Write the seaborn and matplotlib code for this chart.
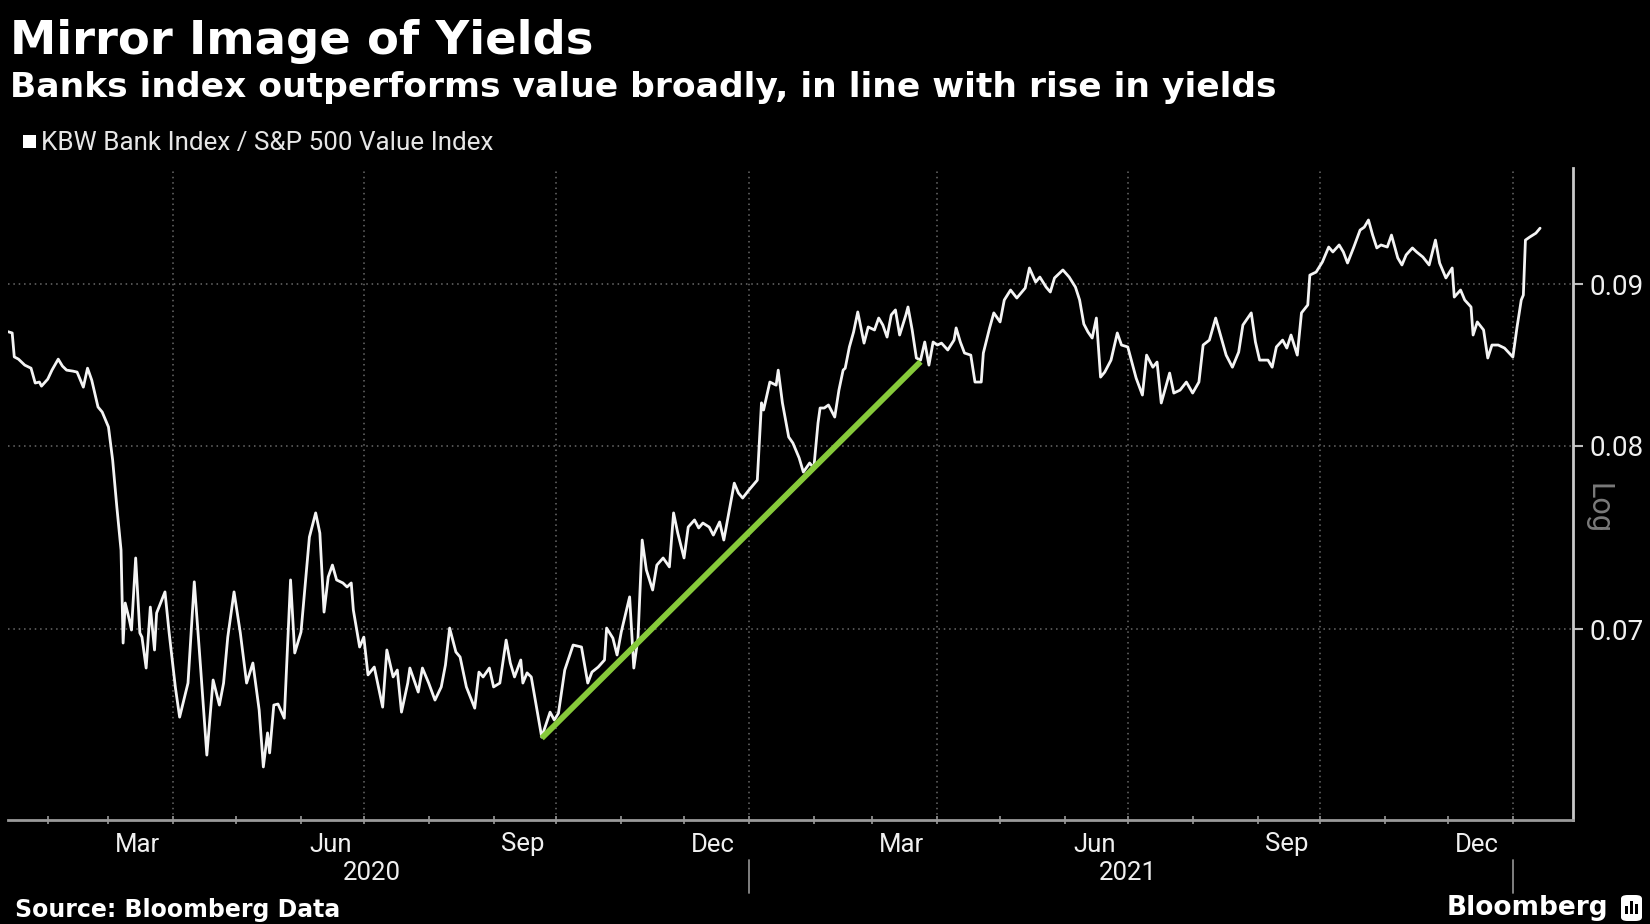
import matplotlib
matplotlib.use("Agg")
import numpy as np
import pandas as pd
import matplotlib.pyplot as plt
import matplotlib.dates as mdates
import matplotlib.ticker as mticker
from matplotlib import font_manager
from matplotlib.patches import FancyBboxPatch, Rectangle
import seaborn as sns

# ---------------- data ----------------
dates_2020 = [
    "2020-01-13", "2020-01-15", "2020-01-16", "2020-01-18", "2020-01-21", "2020-01-24", "2020-01-26",
    "2020-01-28", "2020-01-29", "2020-02-01", "2020-02-03", "2020-02-06", "2020-02-08", "2020-02-10",
    "2020-02-13", "2020-02-15", "2020-02-18", "2020-02-20", "2020-02-22", "2020-02-25", "2020-02-27",
    "2020-03-01", "2020-03-03", "2020-03-05", "2020-03-07", "2020-03-08", "2020-03-09", "2020-03-11",
    "2020-03-12", "2020-03-14", "2020-03-16", "2020-03-17", "2020-03-19", "2020-03-21", "2020-03-23",
    "2020-03-24", "2020-03-28", "2020-03-30", "2020-04-02", "2020-04-04", "2020-04-08", "2020-04-11",
    "2020-04-14", "2020-04-17", "2020-04-20", "2020-04-23", "2020-04-25", "2020-04-27", "2020-04-30",
    "2020-05-03", "2020-05-06", "2020-05-09", "2020-05-12", "2020-05-14", "2020-05-16", "2020-05-17",
    "2020-05-19", "2020-05-21", "2020-05-24", "2020-05-27", "2020-05-29", "2020-06-01", "2020-06-05",
    "2020-06-08", "2020-06-10", "2020-06-12", "2020-06-14", "2020-06-16", "2020-06-18", "2020-06-21",
    "2020-06-23", "2020-06-25", "2020-06-26", "2020-06-29", "2020-07-01", "2020-07-03", "2020-07-06",
    "2020-07-08", "2020-07-10", "2020-07-12", "2020-07-15", "2020-07-17", "2020-07-19", "2020-07-22",
    "2020-07-23", "2020-07-27", "2020-07-29", "2020-08-01", "2020-08-04", "2020-08-07", "2020-08-09",
    "2020-08-11", "2020-08-14", "2020-08-16", "2020-08-19", "2020-08-23", "2020-08-25", "2020-08-27",
    "2020-08-30", "2020-09-01", "2020-09-04", "2020-09-07", "2020-09-09", "2020-09-11", "2020-09-14",
    "2020-09-15", "2020-09-17", "2020-09-19", "2020-09-22", "2020-09-24", "2020-09-28", "2020-09-30",
    "2020-10-02", "2020-10-05", "2020-10-09", "2020-10-13", "2020-10-16", "2020-10-18", "2020-10-21",
    "2020-10-24", "2020-10-25", "2020-10-28", "2020-10-30", "2020-11-01", "2020-11-05", "2020-11-07",
    "2020-11-09", "2020-11-11", "2020-11-13", "2020-11-16", "2020-11-18", "2020-11-21", "2020-11-24",
    "2020-11-26", "2020-11-28", "2020-12-01", "2020-12-03", "2020-12-06", "2020-12-08", "2020-12-10",
    "2020-12-13", "2020-12-15", "2020-12-18", "2020-12-20", "2020-12-22", "2020-12-25", "2020-12-27",
    "2020-12-29",
]
ratio_2020 = [
    0.08693, 0.08685, 0.08535, 0.08521, 0.08484, 0.08465, 0.08374,
    0.08380, 0.08355, 0.08398, 0.08453, 0.08521, 0.08478, 0.08453,
    0.08447, 0.08441, 0.08349, 0.08465, 0.08392, 0.08229, 0.08199,
    0.08110, 0.07917, 0.07651, 0.07415, 0.06929, 0.07134, 0.07046,
    0.06995, 0.07372, 0.06980, 0.06959, 0.06804, 0.07113, 0.06894,
    0.07082, 0.07192, 0.06980, 0.06706, 0.06565, 0.06730, 0.07245,
    0.06809, 0.06386, 0.06745, 0.06623, 0.06730, 0.06959, 0.07192,
    0.06980, 0.06730, 0.06829, 0.06599, 0.06331, 0.06490, 0.06396,
    0.06623, 0.06628, 0.06560, 0.07255, 0.06879, 0.06985, 0.07485,
    0.07618, 0.07507, 0.07087, 0.07271, 0.07334, 0.07255, 0.07239,
    0.07218, 0.07239, 0.07098, 0.06909, 0.06959, 0.06770, 0.06809,
    0.06711, 0.06613, 0.06894, 0.06760, 0.06794, 0.06589, 0.06730,
    0.06804, 0.06686, 0.06804, 0.06730, 0.06647, 0.06711, 0.06819,
    0.07005, 0.06884, 0.06859, 0.06711, 0.06608, 0.06784, 0.06760,
    0.06804, 0.06711, 0.06730, 0.06944, 0.06829, 0.06760, 0.06844,
    0.06730, 0.06780, 0.06760, 0.06584, 0.06470, 0.06589, 0.06551,
    0.06584, 0.06794, 0.06919, 0.06909, 0.06730, 0.06784, 0.06809,
    0.06844, 0.07005, 0.06954, 0.06869, 0.06985, 0.07166, 0.06804,
    0.06954, 0.07469, 0.07308, 0.07202, 0.07334, 0.07372, 0.07324,
    0.07618, 0.07507, 0.07372, 0.07540, 0.07579, 0.07535, 0.07562,
    0.07540, 0.07496, 0.07568, 0.07469, 0.07595, 0.07785, 0.07729,
    0.07701,
]
dates_2021 = [
    "2021-01-01", "2021-01-05", "2021-01-07", "2021-01-08", "2021-01-11", "2021-01-14", "2021-01-15",
    "2021-01-17", "2021-01-20", "2021-01-22", "2021-01-25", "2021-01-27", "2021-01-30", "2021-02-01",
    "2021-02-03", "2021-02-04", "2021-02-06", "2021-02-08", "2021-02-11", "2021-02-13", "2021-02-15",
    "2021-02-16", "2021-02-18", "2021-02-20", "2021-02-22", "2021-02-25", "2021-02-27", "2021-03-02",
    "2021-03-04", "2021-03-06", "2021-03-08", "2021-03-10", "2021-03-12", "2021-03-14", "2021-03-17",
    "2021-03-18", "2021-03-20", "2021-03-22", "2021-03-24", "2021-03-26", "2021-03-28", "2021-03-30",
    "2021-04-01", "2021-04-03", "2021-04-06", "2021-04-09", "2021-04-10", "2021-04-12", "2021-04-14",
    "2021-04-17", "2021-04-19", "2021-04-22", "2021-04-23", "2021-04-26", "2021-04-28", "2021-05-01",
    "2021-05-03", "2021-05-06", "2021-05-09", "2021-05-13", "2021-05-15", "2021-05-18", "2021-05-20",
    "2021-05-23", "2021-05-25", "2021-05-27", "2021-05-31", "2021-06-03", "2021-06-06", "2021-06-08",
    "2021-06-10", "2021-06-12", "2021-06-14", "2021-06-16", "2021-06-18", "2021-06-20", "2021-06-23",
    "2021-06-26", "2021-06-28", "2021-07-01", "2021-07-05", "2021-07-08", "2021-07-10", "2021-07-13",
    "2021-07-15", "2021-07-17", "2021-07-21", "2021-07-23", "2021-07-26", "2021-07-29", "2021-08-01",
    "2021-08-04", "2021-08-06", "2021-08-09", "2021-08-12", "2021-08-14", "2021-08-17", "2021-08-20",
    "2021-08-23", "2021-08-25", "2021-08-29", "2021-08-31", "2021-09-02", "2021-09-06", "2021-09-08",
    "2021-09-10", "2021-09-13", "2021-09-15", "2021-09-17", "2021-09-20", "2021-09-22", "2021-09-25",
    "2021-09-26", "2021-09-29", "2021-10-02", "2021-10-05", "2021-10-07", "2021-10-10", "2021-10-12",
    "2021-10-14", "2021-10-17", "2021-10-20", "2021-10-22", "2021-10-24", "2021-10-26", "2021-10-28",
    "2021-10-30", "2021-11-02", "2021-11-04", "2021-11-07", "2021-11-09", "2021-11-11", "2021-11-14",
    "2021-11-16", "2021-11-19", "2021-11-22", "2021-11-25", "2021-11-27", "2021-11-30", "2021-12-03",
    "2021-12-04", "2021-12-07", "2021-12-09", "2021-12-12", "2021-12-13", "2021-12-15", "2021-12-18",
    "2021-12-20", "2021-12-22", "2021-12-25", "2021-12-28",
    "2022-01-01", "2022-01-03", "2022-01-05", "2022-01-06", "2022-01-07", "2022-01-09", "2022-01-12",
    "2022-01-14",
]
ratio_2021 = [
    0.07746, 0.07802, 0.08254, 0.08211, 0.08380, 0.08361, 0.08453,
    0.08254, 0.08051, 0.08016, 0.07929, 0.07848, 0.07900, 0.07871,
    0.08133, 0.08223, 0.08223, 0.08241, 0.08169, 0.08331, 0.08453,
    0.08465, 0.08597, 0.08691, 0.08819, 0.08621, 0.08723, 0.08704,
    0.08780, 0.08735, 0.08659, 0.08800, 0.08832, 0.08672, 0.08800,
    0.08851, 0.08704, 0.08528, 0.08515, 0.08628, 0.08484, 0.08628,
    0.08609, 0.08621, 0.08578, 0.08640, 0.08717, 0.08628, 0.08559,
    0.08546, 0.08380, 0.08380, 0.08559, 0.08717, 0.08813, 0.08755,
    0.08896, 0.08961, 0.08909, 0.08974, 0.09106, 0.09013, 0.09046,
    0.08980, 0.08948, 0.09040, 0.09093, 0.09046, 0.08980, 0.08896,
    0.08742, 0.08691, 0.08653, 0.08780, 0.08410, 0.08441, 0.08515,
    0.08685, 0.08609, 0.08597, 0.08404, 0.08301, 0.08546, 0.08471,
    0.08503, 0.08253, 0.08435, 0.08313, 0.08331, 0.08380, 0.08313,
    0.08380, 0.08609, 0.08640, 0.08780, 0.08685, 0.08546, 0.08471,
    0.08565, 0.08735, 0.08813, 0.08628, 0.08515, 0.08515, 0.08471,
    0.08597, 0.08640, 0.08590, 0.08672, 0.08546, 0.08813, 0.08864,
    0.09059, 0.09079, 0.09146, 0.09246, 0.09213, 0.09260, 0.09213,
    0.09139, 0.09246, 0.09361, 0.09381, 0.09430, 0.09327, 0.09240,
    0.09260, 0.09246, 0.09327, 0.09173, 0.09126, 0.09193, 0.09240,
    0.09213, 0.09179, 0.09126, 0.09293, 0.09139, 0.09040, 0.09106,
    0.08915, 0.08961, 0.08896, 0.08851, 0.08672, 0.08755, 0.08704,
    0.08528, 0.08609, 0.08609, 0.08590,
    0.08534, 0.08723, 0.08896, 0.08928, 0.09293, 0.09313, 0.09340,
    0.09374,
]
trend_dates = ["2020-09-24", "2021-03-24"]
trend_values = [0.06465, 0.08505]

y_ticks = [0.07, 0.08, 0.09]
y_limits = [0.06091, 0.09794]
x_limits = ["2020-01-13", "2022-01-29 14:00"]
quarter_lines = ["2020-04-01", "2020-07-01", "2020-10-01", "2021-01-01",
                 "2021-04-01", "2021-07-01", "2021-10-01", "2022-01-01"]
year_labels = ["2020", "2021"]
year_label_dates = ["2020-07-05", "2021-07-01"]
year_breaks = ["2021-01-01", "2022-01-01"]

title = "Mirror Image of Yields"
subtitle = "Banks index outperforms value broadly, in line with rise in yields"
legend_label = "KBW Bank Index / S&P 500 Value Index"
source = "Source: Bloomberg Data"

# ---------------- styling ----------------
sns.set_theme(style="dark")
names = {f.name for f in font_manager.fontManager.ttflist}
if "Liberation Sans Narrow" in names:
    narrow = "Liberation Sans Narrow"
    fs_month, fs_leg, fs_ytick, fs_log = 20, 20.5, 23, 24
else:
    narrow = "Roboto"
    fs_month, fs_leg, fs_ytick, fs_log = 18.5, 18.7, 20, 22
plt.rcParams["font.family"] = ["DejaVu Sans"]

W, H = 1650, 924
fig = plt.figure(figsize=(W / 100, H / 100), dpi=100, facecolor="black")
ax = fig.add_axes([8 / W, 1 - 820 / H, (1572.7 - 8) / W, (820 - 168) / H])
ax.set_facecolor("black")

df = pd.DataFrame({"date": pd.to_datetime(dates_2020 + dates_2021),
                   "ratio": ratio_2020 + ratio_2021})
tdf = pd.DataFrame({"date": pd.to_datetime(trend_dates), "ratio": trend_values})

sns.lineplot(data=df, x="date", y="ratio", ax=ax, color="#f4f4f4", linewidth=2.0, zorder=3)
sns.lineplot(data=tdf, x="date", y="ratio", ax=ax, color="#86c93a", linewidth=4.2,
             solid_capstyle="butt", zorder=4)

ax.set_yscale("log")
ax.set_ylim(*y_limits)
ax.set_xlim(pd.Timestamp(x_limits[0]), pd.Timestamp(x_limits[1]))
ax.set_xlabel("")
ax.set_ylabel("")

# y axis on the right
ax.yaxis.tick_right()
ax.yaxis.set_major_locator(mticker.FixedLocator(y_ticks))
ax.yaxis.set_minor_locator(mticker.NullLocator())
ax.yaxis.set_major_formatter(mticker.FuncFormatter(lambda v, p: f"{v:.2f}"))
ax.tick_params(axis="y", which="major", direction="out", length=7, width=1.5,
               color="#bdbdbd", labelcolor="#f0f0f0", labelsize=fs_ytick, pad=5,
               labelfontfamily=narrow, left=False, right=True)

# x axis
ax.xaxis.set_major_locator(mdates.MonthLocator(bymonth=[3, 6, 9, 12], bymonthday=15))
ax.xaxis.set_major_formatter(mdates.DateFormatter("%b"))
ax.xaxis.set_minor_locator(mdates.MonthLocator())
ax.tick_params(axis="x", which="major", length=0, pad=9, labelsize=fs_month,
               labelcolor="#f0f0f0", labelfontfamily=narrow)
ax.tick_params(axis="x", which="minor", direction="inout", length=6, width=1.2,
               color="#9a9a9a", bottom=True)

# grid
ax.grid(False)
for yv in y_ticks:
    ax.axhline(yv, color="#6a6a6a", linestyle=(0, (1, 2.5)), linewidth=1.1, zorder=1)
for q in quarter_lines:
    ax.axvline(pd.Timestamp(q), color="#6a6a6a", linestyle=(0, (1, 2.5)), linewidth=1.1, zorder=1)

# spines
for s in ["left", "top"]:
    ax.spines[s].set_visible(False)
ax.spines["right"].set_color("#c8c8c8")
ax.spines["right"].set_linewidth(2)
ax.spines["bottom"].set_color("#9a9a9a")
ax.spines["bottom"].set_linewidth(2)

# year labels and separators
xtr = ax.get_xaxis_transform()
for lab, d in zip(year_labels, year_label_dates):
    ax.text(mdates.date2num(pd.Timestamp(d)), -0.081, lab, transform=xtr, ha="center",
            va="center", color="#f0f0f0", fontsize=fs_month, family=narrow)
for d in year_breaks:
    xd = mdates.date2num(pd.Timestamp(d))
    ax.plot([xd, xd], [-0.062, -0.112], transform=xtr, clip_on=False, color="#8a8a8a", lw=1.3)

# "Log" marker
fig.text(1598 / W, 1 - 508 / H, "Log", rotation=-90, ha="center", va="center",
         color="#7a7a7a", fontsize=fs_log, family=narrow)

# titles and legend
fig.text(10 / W, 1 - 41 / H, title, color="white", fontsize=33.5, fontweight="bold",
         ha="left", va="center")
fig.text(10 / W, 1 - 88 / H, subtitle, color="white", fontsize=24.8, fontweight="bold",
         ha="left", va="center")
fig.patches.append(Rectangle((23 / W, 1 - 148 / H), 13 / W, 13 / H, transform=fig.transFigure,
                             facecolor="white", edgecolor="none"))
fig.text(41 / W, 1 - 143 / H, legend_label, color="#e6e6e6", fontsize=fs_leg,
         family=narrow, ha="left", va="center")

# footer
fig.text(15 / W, 1 - 910 / H, source, color="white", fontsize=17, fontweight="bold",
         ha="left", va="center")
fig.text(1608 / W, 1 - 908 / H, "Bloomberg", color="white", fontsize=19, fontweight="bold",
         ha="right", va="center")
fig.patches.append(FancyBboxPatch((1621 / W, 1 - 921 / H), 21 / W, 26 / H,
                                  boxstyle="round,pad=0,rounding_size=0.004",
                                  transform=fig.transFigure, facecolor="white", edgecolor="none"))
for bx, bh in [(1625, 8), (1630, 13), (1635, 10)]:
    fig.patches.append(Rectangle((bx / W, 1 - 914 / H), 3 / W, bh / H, transform=fig.transFigure,
                                 facecolor="black", edgecolor="none"))

fig.savefig("out.png", dpi=100, facecolor="black")
